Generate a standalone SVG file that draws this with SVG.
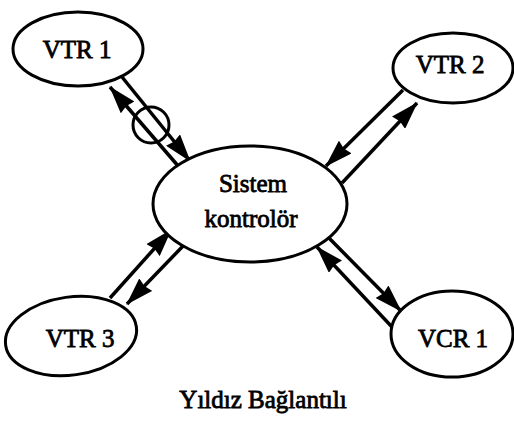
<svg xmlns="http://www.w3.org/2000/svg" width="514" height="424" viewBox="0 0 514 424">
  <style>
    .node { fill: #fff; stroke: #000; stroke-width: 3; }
    .label { font-family: "Liberation Serif", "Times New Roman", serif; font-size: 25px; fill: #000; stroke: #000; stroke-width: 0.8; text-anchor: middle; }
    .link { stroke: #000; stroke-width: 3.5; fill: none; }
    .arrow-end { marker-end: url(#head); }
    .arrow-start { marker-start: url(#head); }
  </style>
  <defs>
    <marker id="head" viewBox="0 0 28 18" refX="27" refY="9" markerWidth="28" markerHeight="18" markerUnits="userSpaceOnUse" orient="auto-start-reverse">
      <path d="M0,0 L28,9 L0,18 L2,9 z" fill="#000"/>
    </marker>
  </defs>
  <rect width="514" height="424" fill="#fff"/>

  <!-- paired links between the controller and each deck -->
  <g id="connectors">
    <line class="link arrow-end" x1="122" y1="77" x2="190" y2="161"/>
    <line class="link arrow-start" x1="110" y1="87" x2="179" y2="167"/>
    <circle cx="151" cy="125" r="18" fill="none" stroke="#000" stroke-width="3"/>

    <line class="link arrow-end" x1="403" y1="90" x2="326" y2="166"/>
    <line class="link arrow-start" x1="417" y1="103" x2="342" y2="183"/>

    <line class="link arrow-end" x1="110" y1="298" x2="171" y2="230"/>
    <line class="link arrow-start" x1="127" y1="304" x2="184" y2="245"/>

    <line class="link arrow-end" x1="328" y1="237" x2="401" y2="311"/>
    <line class="link arrow-start" x1="317" y1="247" x2="392" y2="327"/>
  </g>

  <g id="vtr1">
    <ellipse class="node" cx="78" cy="49" rx="65" ry="37"/>
    <text class="label" x="77" y="58">VTR 1</text>
  </g>
  <g id="vtr2">
    <ellipse class="node" cx="453" cy="68" rx="60" ry="35"/>
    <text class="label" x="450" y="73">VTR 2</text>
  </g>
  <g id="controller">
    <ellipse class="node" cx="250" cy="204" rx="97" ry="58"/>
    <text class="label" x="253" y="192">Sistem</text>
    <text class="label" x="251" y="227">kontrolör</text>
  </g>
  <g id="vtr3">
    <ellipse class="node" cx="71" cy="336" rx="66" ry="39" transform="rotate(-8 71 336)"/>
    <text class="label" x="80" y="347">VTR 3</text>
  </g>
  <g id="vcr1">
    <ellipse class="node" cx="452" cy="334" rx="61" ry="43"/>
    <text class="label" x="453" y="347">VCR 1</text>
  </g>

  <text class="label" x="263" y="408">Yıldız Bağlantılı</text>
</svg>
